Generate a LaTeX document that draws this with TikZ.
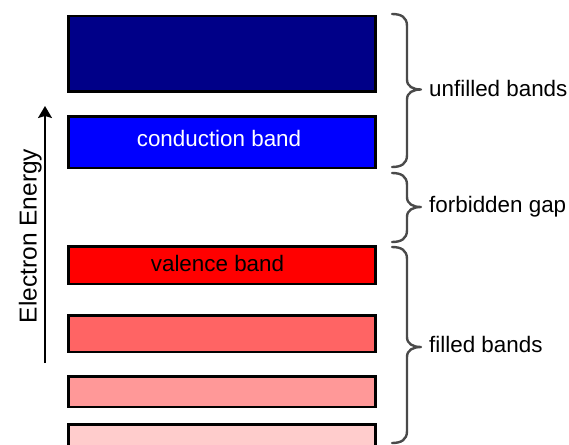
\documentclass[tikz,border=0pt]{standalone}
\usepackage{fontspec}
\setmainfont{Liberation Sans}
\usetikzlibrary{arrows.meta}

\definecolor{bandnavy}{HTML}{000088}
\definecolor{bandblue}{HTML}{0000FF}
\definecolor{bandred}{HTML}{FF0000}
\definecolor{bandredA}{HTML}{FF6464}
\definecolor{bandredB}{HTML}{FF9898}
\definecolor{bandredC}{HTML}{FFCCCC}
\definecolor{bracegray}{HTML}{4A4A4A}

\tikzset{
  band/.style={draw=black, line width=2.5pt},
  bandtext/.style={font=\fontsize{22.4}{26}\selectfont, anchor=base},
  sidelabel/.style={font=\fontsize{22.4}{26}\selectfont, anchor=base west, inner sep=0pt},
  bracestroke/.style={draw=bracegray, line width=2.4pt, line cap=round, line join=round},
}

% curly brace opening to the right: ends at x=392, spine at 407, tip at 421
\newcommand{\bandbrace}[3]{%
  \draw[bracestroke]
    (392,#1) .. controls (401,#1) and (407,#1+3) .. (407,#1+12)
    -- (407,#3-10) .. controls (407,#3-3) and (413,#3) .. (421,#3)
    .. controls (413,#3) and (407,#3+3) .. (407,#3+10)
    -- (407,#2-12) .. controls (407,#2-3) and (401,#2) .. (392,#2);
}

\begin{document}
\begin{tikzpicture}[x=1pt, y=-1pt]
  \useasboundingbox (0,0) rectangle (569,444);
  \clip (0,0) rectangle (569,444);

  % energy bands
  \path[band, fill=bandnavy] (68.5,16.25) rectangle (375.5,91.25);
  \path[band, fill=bandblue] (68.5,116.25) rectangle (375.5,167.75);
  \node[bandtext, text=white] (cond) at (219,146.7) {conduction band};
  \path[band, fill=bandred] (68.5,246.25) rectangle (375.5,283.75);
  \node[bandtext, text=black] (val) at (217.5,271) {valence band};
  \path[band, fill=bandredA] (68.5,315.25) rectangle (375.5,351.75);
  \path[band, fill=bandredB] (68.5,376.25) rectangle (375.5,406.75);
  \path[band, fill=bandredC] (68.5,424.25) rectangle (375.5,460);

  % energy axis
  \coordinate (axbot) at (45,363);
  \coordinate (axtop) at (45,106);
  \draw[line width=1.5pt, -{Stealth[length=12pt, width=14pt, inset=2pt]}] (axbot) -- (axtop);
  \node[font=\fontsize{24.5}{28}\selectfont, rotate=90, anchor=base] (axlabel) at (36.5,236) {Electron Energy};

  % braces and their labels
  \bandbrace{14}{167}{89.5}
  \bandbrace{173}{242}{207}
  \bandbrace{247}{443}{347}
  \node[sidelabel] (unf) at (429,96.7) {unfilled bands};
  \node[sidelabel] (gap) at (429,212.7) {forbidden gap};
  \node[sidelabel] (fil) at (429,352.7) {filled bands};
\end{tikzpicture}
\end{document}
